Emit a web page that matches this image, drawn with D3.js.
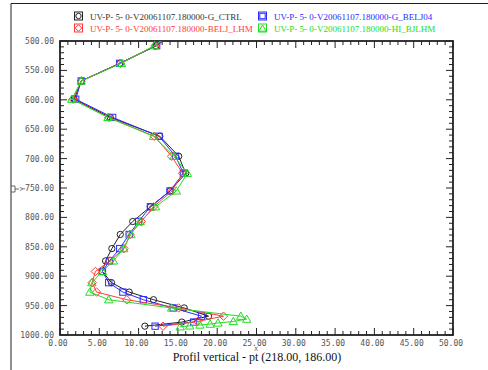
<!DOCTYPE html>
<html><head><meta charset="utf-8">
<script src="https://cdn.jsdelivr.net/npm/d3@7"></script>
<style>body{margin:0;background:#fff}svg{display:block}</style>
</head><body><svg id="c" width="488" height="370"></svg>
<script>
// ---- data ----
const seriesNames = ["UV-P- 5- 0-V20061107.180000-G_CTRL","UV-P- 5- 0-V20061107.180000-G_BELJ04","UV-P- 5- 0-V20061107.180000-BELJ_LHM","UV-P- 5- 0-V20061107.180000-HI_BJLHM"];
const levels = [478,508,538,568,599,630,662,696,725,755,782,807,829,853,874,892,911,927,940,954,968,978,985];
const ctrlX  = [15.3,12.2,7.6,2.7,1.8,6.4,12.7,15.1,16.0,14.0,11.5,9.25,7.67,6.6,5.8,5.4,6.55,8.8,11.9,15.8,18.9,15.5,10.8];
const belj04X = [15.3,12.3,7.6,2.7,2.0,6.7,12.6,14.7,15.7,14.0,11.5,10.0,8.8,7.6,6.3,5.4,6.2,8.0,10.6,14.4,18.0,17.0,12.1];
const lhmLevels = [478,508,538,568,599,630,662,696,725,755,782,807,829,853,874,892,911,927,940,954,968,977,985];
const lhmX   = [15.2,12.1,7.7,2.7,1.65,6.2,12.0,14.2,15.6,14.25,11.9,10.35,8.9,8.15,6.35,4.5,4.1,4.65,8.5,15.1,20.8,17.5,13.1];
const hiLevels = [478,508,538,568,599,630,662,696,725,755,782,807,829,853,874,892,911,927,940,954,968,973,977,979.5,981.5,983,984.5,986];
const hiX    = [15.0,12.0,7.8,2.7,1.5,6.1,11.9,14.5,16.2,14.8,12.15,10.2,9.0,8.1,6.8,5.4,4.05,3.8,6.2,14.2,23.0,23.75,22.05,20.1,19.1,17.8,16.5,15.3];
const xTicks = [0,5,10,15,20,25,30,35,40,45,50];
const yTicks = [500,550,600,650,700,750,800,850,900,950,1000];

// ---- layout ----
const svg = d3.select("#c");
const L = 60, R = 453, T = 41, B = 335;
const x = d3.scaleLinear().domain([0,50]).range([L,R]);
const y = d3.scaleLinear().domain([500,1000]).range([T,B]);
const colors = ["#222222","#2b2bff","#ff3b3b","#22dd22"];
const symbols = ["circle","square","diamond","triangle"];

// outer frame
svg.append("path").attr("d",`M11,370 V3.5 H488`).attr("fill","none").attr("stroke","#222").attr("stroke-width",1);
svg.append("path").attr("d","M11,186 h4 v6 h-4 M15,189 h4").attr("fill","none").attr("stroke","#444").attr("stroke-width",0.8);

// ticks
const fmt = d3.format(".2f");
const g = svg.append("g");
d3.range(0,50.01,1).forEach(v=>{
  const len = (v%5===0)?7:4;
  g.append("line").attr("x1",x(v)).attr("x2",x(v)).attr("y1",B).attr("y2",B-len).attr("stroke","#222").attr("stroke-width",1);
  g.append("line").attr("x1",x(v)).attr("x2",x(v)).attr("y1",T).attr("y2",T+len).attr("stroke","#222").attr("stroke-width",1);
});
d3.range(500,1000.01,10).forEach(v=>{
  const len = (v%50===0)?7:4;
  g.append("line").attr("y1",y(v)).attr("y2",y(v)).attr("x1",L).attr("x2",L+len).attr("stroke","#222").attr("stroke-width",1);
  g.append("line").attr("y1",y(v)).attr("y2",y(v)).attr("x1",R).attr("x2",R-len).attr("stroke","#222").attr("stroke-width",1);
});
svg.append("rect").attr("x",L).attr("y",T).attr("width",R-L).attr("height",B-T).attr("fill","none").attr("stroke","#222").attr("stroke-width",1.8);

const tickFont = "'DejaVu Sans Mono', monospace";
svg.append("g").selectAll("text").data(xTicks).join("text")
  .attr("x",d=>x(d)-2).attr("y",346).attr("text-anchor","middle")
  .attr("font-family",tickFont).attr("font-size",8).attr("fill","#555").text(d=>fmt(d));
svg.append("g").selectAll("text").data(yTicks).join("text")
  .attr("x",54).attr("y",d=>y(d)+3).attr("text-anchor","end")
  .attr("font-family",tickFont).attr("font-size",8).attr("fill","#555").text(d=>fmt(d));

svg.append("text").attr("x",256).attr("y",351).attr("text-anchor","middle").attr("font-family",tickFont).attr("font-size",6).attr("fill","#555").text("X");
svg.append("text").attr("transform","translate(25,189) rotate(-90)").attr("text-anchor","middle").attr("font-family",tickFont).attr("font-size",7).attr("fill","#555").text("Y");
svg.append("text").attr("x",257).attr("y",361).attr("text-anchor","middle").attr("font-family","'Liberation Serif', serif").attr("font-size",12).attr("fill","#111").text("Profil vertical - pt (218.00, 186.00)");

// markers
function marker(sel, kind, cx, cy, color, s){
  if(kind==="circle") sel.append("circle").attr("cx",cx).attr("cy",cy).attr("r",s*0.45);
  else if(kind==="square") sel.append("rect").attr("x",cx-s*0.45).attr("y",cy-s*0.45).attr("width",s*0.9).attr("height",s*0.9);
  else if(kind==="diamond") sel.append("path").attr("d",`M${cx},${cy-s*0.6}L${cx+s*0.6},${cy}L${cx},${cy+s*0.6}L${cx-s*0.6},${cy}Z`);
  else sel.append("path").attr("d",`M${cx},${cy-s*0.6}L${cx+s*0.6},${cy+s*0.45}L${cx-s*0.6},${cy+s*0.45}Z`);
}

svg.append("clipPath").attr("id","clip").append("rect").attr("x",L).attr("y",T).attr("width",R-L).attr("height",B-T);
const plot = svg.append("g").attr("clip-path","url(#clip)");
const series = [
  {lv:levels, xs:ctrlX},
  {lv:levels, xs:belj04X},
  {lv:lhmLevels, xs:lhmX},
  {lv:hiLevels, xs:hiX}
];
const line = d3.line().x(d=>x(d[0])).y(d=>y(d[1]));
series.forEach((s,i)=>{
  const pts = s.xs.map((v,j)=>[v,s.lv[j]]);
  const gg = plot.append("g");
  gg.append("path").attr("d",line(pts)).attr("fill","none").attr("stroke",colors[i]).attr("stroke-width",1);
  const mg = gg.append("g").attr("fill","none").attr("stroke",colors[i]).attr("stroke-width",1);
  pts.forEach(p=>marker(mg, symbols[i], x(p[0]), y(p[1]), colors[i], 7));
});

// legend
const legPos = [[78.5,16],[262.5,16],[78.5,28],[262.5,28]];
seriesNames.forEach((n,i)=>{
  const [cx,cy] = legPos[i];
  const lg = svg.append("g").attr("fill","none").attr("stroke",colors[i]).attr("stroke-width",1);
  lg.append("rect").attr("x",cx-4).attr("y",cy-4).attr("width",8).attr("height",8);
  marker(lg, symbols[i], cx, cy+(i===3?0.5:0), colors[i], i===2?5.5:6);
  svg.append("text").attr("x",cx+11.5).attr("y",cy+3.5).attr("font-family","'Liberation Serif', serif").attr("font-size",9).attr("letter-spacing",0.02).attr("fill",i===0?"#333":colors[i]).text(n);
});
</script></body></html>
